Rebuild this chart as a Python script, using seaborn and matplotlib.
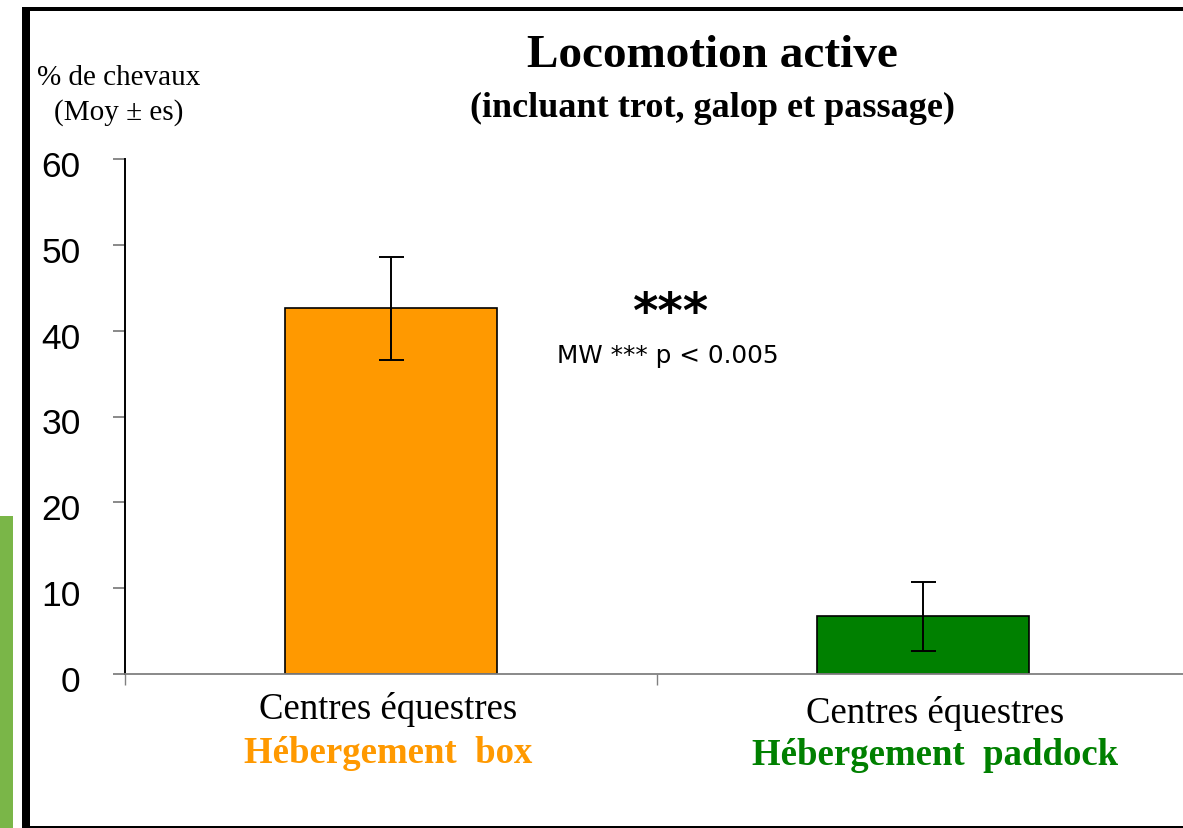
import matplotlib
matplotlib.use("Agg")
import matplotlib.pyplot as plt
import matplotlib.transforms as mtransforms
import seaborn as sns
import pandas as pd
from matplotlib.patches import Rectangle

categories = ["box", "paddock"]
means = [42.6, 6.7]
errors = [6.0, 4.0]
line1 = ["Centres équestres", "Centres équestres"]
line2 = ["Hébergement  box", "Hébergement  paddock"]
colors = ["#FF9900", "#008000"]
yticks = [0, 10, 20, 30, 40, 50, 60]

sns.set_style("white")
plt.rcParams["font.family"] = ["Liberation Sans", "DejaVu Sans"]
plt.rcParams["text.color"] = "black"
plt.rcParams["ytick.color"] = "black"
plt.rcParams["xtick.color"] = "black"

W, H = 1183, 829
fig = plt.figure(figsize=(W / 100, H / 100), dpi=100)

def fx(x):
    return x / W

def fy(y):
    return 1 - y / H

ax = fig.add_axes([fx(125), fy(675), (1189 - 125) / W, (675 - 160) / H])

df = pd.DataFrame({"cat": categories, "val": means})
sns.barplot(data=df, x="cat", y="val", hue="cat", palette=colors, width=0.4,
            saturation=1, edgecolor="black", linewidth=1.2, legend=False, ax=ax,
            errorbar=None)
ax.errorbar(range(len(means)), means, yerr=errors, fmt="none", ecolor="black",
            elinewidth=1.4, capsize=9, capthick=1.4, zorder=5)

ax.set_xlim(-0.5, 1.5)
ax.set_ylim(0, 60)
ax.set_yticks(yticks)
ax.set_yticklabels([str(t) for t in yticks], fontsize=25.5, color="black")
ax.set_xticks([-0.5, 0.5, 1.5])
ax.set_xticklabels([])
ax.set_xlabel("")
ax.set_ylabel("")
ax.tick_params(axis="y", direction="out", length=9, width=1.3, color="#808080", pad=23, left=True)
ax.tick_params(axis="x", direction="out", length=8, width=1.0, color="#808080", bottom=True)
shift = mtransforms.ScaledTranslation(0, -4 / 100, fig.dpi_scale_trans)
for lab in ax.get_yticklabels():
    lab.set_transform(lab.get_transform() + shift)
for s in ["top", "right"]:
    ax.spines[s].set_visible(False)
ax.spines["left"].set_color("black")
ax.spines["left"].set_linewidth(1.4)
ax.spines["bottom"].set_color("#808080")
ax.spines["bottom"].set_linewidth(1.3)

serif = ["Liberation Serif", "DejaVu Serif"]
xoff = [-0.005, 0.023]
y1 = [-4.0, -4.5]
y2 = [-9.1, -9.4]
for i in range(len(categories)):
    ax.text(i + xoff[i], y1[i], line1[i], ha="center", va="center", fontsize=26.5,
            family=serif, color="black", clip_on=False)
    ax.text(i + xoff[i], y2[i], line2[i], ha="center", va="center", fontsize=26.5,
            family=serif, fontweight="bold", color=colors[i], clip_on=False)

fig.text(fx(712), fy(56), "Locomotion active", ha="center", va="center",
         fontsize=34, family=serif, fontweight="bold", color="black")
fig.text(fx(712), fy(108), "(incluant trot, galop et passage)", ha="center", va="center",
         fontsize=26, family=serif, fontweight="bold", color="black")
fig.text(fx(119), fy(78), "% de chevaux", ha="center", va="center", fontsize=21,
         family=serif, color="black")
fig.text(fx(119), fy(113), "(Moy ± es)", ha="center", va="center", fontsize=21,
         family=serif, color="black")

fig.text(fx(671), fy(314), "***", ha="center", va="center", fontsize=35,
         family=["DejaVu Sans"], fontweight="bold", color="black")
fig.text(fx(668), fy(356), "MW *** p < 0.005", ha="center", va="center", fontsize=17.8,
         family=["DejaVu Sans"], color="black")

# frame and left green strip
fig.patches.append(Rectangle((fx(22), 0), fx(8), fy(8), transform=fig.transFigure,
                             facecolor="black", edgecolor="none", zorder=10))
fig.patches.append(Rectangle((fx(22), fy(12)), 1, 4 / H, transform=fig.transFigure,
                             facecolor="black", edgecolor="none", zorder=10))
fig.patches.append(Rectangle((fx(22), 0), 1, 2 / H, transform=fig.transFigure,
                             facecolor="black", edgecolor="none", zorder=10))
fig.patches.append(Rectangle((0, 0), fx(13), fy(517), transform=fig.transFigure,
                             facecolor="#7AB648", edgecolor="none", zorder=10))

fig.savefig("out.png", dpi=100)
